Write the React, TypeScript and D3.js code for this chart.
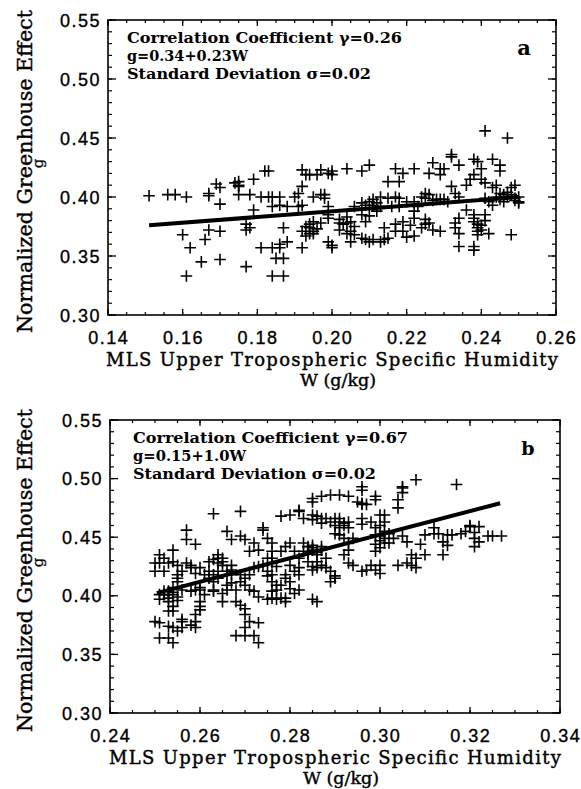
import React from "react";
import * as d3 from "d3";

// ---------- DATA ----------
const yTicks = [0.3, 0.35, 0.4, 0.45, 0.5, 0.55];
const xTicksA = [0.14, 0.16, 0.18, 0.2, 0.22, 0.24, 0.26];
const xTicksB = [0.24, 0.26, 0.28, 0.3, 0.32, 0.34];

const annotA = ["Correlation Coefficient γ=0.26", "g=0.34+0.23W", "Standard Deviation σ=0.02"];
const annotB = ["Correlation Coefficient γ=0.67", "g=0.15+1.0W", "Standard Deviation σ=0.02"];

const fitA: [number, number][] = [[0.151, 0.376], [0.250, 0.400]];
const fitB: [number, number][] = [[0.2504, 0.4023], [0.3267, 0.479]];

const pointsA: [number, number][] = [
  [0.151, 0.401], [0.156, 0.402], [0.158, 0.402], [0.161, 0.400], [0.167, 0.401], [0.167, 0.403],
  [0.169, 0.411], [0.170, 0.408], [0.170, 0.394], [0.174, 0.412], [0.175, 0.413], [0.175, 0.410],
  [0.175, 0.409], [0.175, 0.402], [0.178, 0.402], [0.179, 0.415], [0.182, 0.422], [0.183, 0.422],
  [0.181, 0.400], [0.183, 0.400], [0.184, 0.400], [0.186, 0.400], [0.179, 0.389], [0.184, 0.392],
  [0.186, 0.393], [0.188, 0.392], [0.190, 0.400], [0.191, 0.403], [0.192, 0.409], [0.192, 0.423],
  [0.193, 0.419], [0.194, 0.419], [0.196, 0.419], [0.197, 0.423], [0.199, 0.420], [0.200, 0.422],
  [0.200, 0.419], [0.204, 0.424], [0.208, 0.422], [0.210, 0.427], [0.195, 0.400], [0.197, 0.402],
  [0.198, 0.402], [0.198, 0.399], [0.191, 0.392], [0.192, 0.393], [0.199, 0.392], [0.199, 0.385],
  [0.160, 0.368], [0.162, 0.357], [0.165, 0.345], [0.170, 0.347], [0.161, 0.333], [0.167, 0.372],
  [0.166, 0.364], [0.170, 0.371], [0.177, 0.377], [0.177, 0.372], [0.178, 0.374], [0.177, 0.341],
  [0.187, 0.374], [0.181, 0.357], [0.184, 0.357], [0.186, 0.357], [0.186, 0.360], [0.188, 0.362],
  [0.185, 0.348], [0.187, 0.348], [0.184, 0.333], [0.187, 0.333], [0.192, 0.371], [0.193, 0.375],
  [0.194, 0.374], [0.195, 0.371], [0.195, 0.369], [0.193, 0.367], [0.195, 0.379], [0.194, 0.377],
  [0.192, 0.357], [0.197, 0.378], [0.199, 0.382], [0.200, 0.359], [0.200, 0.357], [0.199, 0.362],
  [0.202, 0.381], [0.203, 0.377], [0.204, 0.378], [0.205, 0.379], [0.206, 0.375], [0.202, 0.372],
  [0.204, 0.369], [0.206, 0.368], [0.205, 0.362], [0.208, 0.365], [0.209, 0.364], [0.211, 0.364],
  [0.213, 0.362], [0.214, 0.364], [0.215, 0.365], [0.206, 0.392], [0.208, 0.395], [0.209, 0.393],
  [0.210, 0.396], [0.211, 0.393], [0.212, 0.388], [0.213, 0.400], [0.215, 0.399], [0.216, 0.392],
  [0.208, 0.385], [0.210, 0.384], [0.209, 0.379], [0.214, 0.374], [0.217, 0.377], [0.217, 0.371],
  [0.219, 0.371], [0.220, 0.366], [0.222, 0.367], [0.224, 0.374], [0.225, 0.377], [0.227, 0.372],
  [0.229, 0.371], [0.215, 0.413], [0.217, 0.424], [0.218, 0.413], [0.219, 0.420], [0.222, 0.424],
  [0.217, 0.400], [0.218, 0.399], [0.220, 0.396], [0.222, 0.396], [0.223, 0.392], [0.224, 0.400],
  [0.225, 0.403], [0.226, 0.402], [0.228, 0.398], [0.222, 0.388], [0.222, 0.382], [0.225, 0.381],
  [0.226, 0.378], [0.227, 0.429], [0.226, 0.420], [0.229, 0.424], [0.230, 0.424], [0.229, 0.419],
  [0.232, 0.436], [0.232, 0.434], [0.234, 0.427], [0.238, 0.432], [0.239, 0.430], [0.240, 0.424],
  [0.243, 0.432], [0.245, 0.427], [0.245, 0.422], [0.247, 0.450], [0.232, 0.409], [0.233, 0.403],
  [0.234, 0.400], [0.236, 0.410], [0.237, 0.415], [0.238, 0.419], [0.240, 0.415], [0.241, 0.412],
  [0.243, 0.408], [0.244, 0.410], [0.245, 0.403], [0.249, 0.410], [0.248, 0.408], [0.233, 0.378],
  [0.233, 0.374], [0.234, 0.369], [0.234, 0.382], [0.236, 0.389], [0.238, 0.385], [0.238, 0.379],
  [0.239, 0.374], [0.239, 0.371], [0.240, 0.376], [0.241, 0.385], [0.242, 0.369], [0.234, 0.358],
  [0.238, 0.358], [0.238, 0.355], [0.248, 0.368], [0.241, 0.399], [0.242, 0.396], [0.243, 0.393],
  [0.244, 0.400], [0.246, 0.402], [0.247, 0.400], [0.249, 0.399], [0.250, 0.400], [0.250, 0.396],
  [0.250, 0.395], [0.230, 0.398], [0.231, 0.396], [0.241, 0.456],
  [0.194, 0.369], [0.196, 0.373], [0.202, 0.378], [0.204, 0.383], [0.205, 0.371], [0.210, 0.362],
  [0.238, 0.382], [0.239, 0.377], [0.240, 0.372], [0.241, 0.380], [0.239, 0.368], [0.245, 0.398],
  [0.246, 0.396], [0.247, 0.404], [0.248, 0.402], [0.249, 0.397], [0.225, 0.399], [0.227, 0.397],
  [0.229, 0.398], [0.219, 0.379], [0.221, 0.376], [0.218, 0.392], [0.211, 0.398], [0.212, 0.395],
  [0.213, 0.392],
];

const pointsB: [number, number][] = [
  [0.250, 0.428], [0.250, 0.421], [0.251, 0.428], [0.251, 0.435], [0.252, 0.432], [0.252, 0.421],
  [0.253, 0.428], [0.254, 0.439], [0.254, 0.429], [0.255, 0.426], [0.255, 0.418], [0.255, 0.415],
  [0.256, 0.421], [0.255, 0.412], [0.254, 0.407], [0.253, 0.404], [0.254, 0.401], [0.253, 0.398],
  [0.251, 0.401], [0.251, 0.397], [0.252, 0.401], [0.253, 0.395], [0.254, 0.391], [0.254, 0.387],
  [0.253, 0.387], [0.250, 0.378], [0.251, 0.377], [0.253, 0.374], [0.254, 0.373], [0.256, 0.373],
  [0.256, 0.380], [0.255, 0.370], [0.251, 0.364], [0.253, 0.364], [0.254, 0.360],
  [0.257, 0.456], [0.257, 0.448], [0.259, 0.444], [0.257, 0.428], [0.258, 0.424], [0.258, 0.426],
  [0.256, 0.405], [0.258, 0.404], [0.259, 0.405], [0.260, 0.407], [0.260, 0.405], [0.261, 0.401],
  [0.260, 0.395], [0.260, 0.391], [0.260, 0.388], [0.259, 0.384], [0.259, 0.378], [0.258, 0.375],
  [0.259, 0.373], [0.256, 0.378],
  [0.259, 0.419], [0.260, 0.424], [0.261, 0.418], [0.262, 0.421], [0.262, 0.429], [0.263, 0.431],
  [0.264, 0.432], [0.264, 0.435], [0.265, 0.429], [0.265, 0.426], [0.264, 0.421], [0.263, 0.418],
  [0.262, 0.415], [0.263, 0.412], [0.264, 0.415], [0.266, 0.418], [0.266, 0.421], [0.267, 0.426],
  [0.267, 0.422], [0.267, 0.418], [0.263, 0.470], [0.269, 0.472],
  [0.266, 0.455], [0.267, 0.448], [0.269, 0.451], [0.270, 0.448], [0.272, 0.445], [0.271, 0.438],
  [0.273, 0.439], [0.274, 0.458], [0.274, 0.456], [0.275, 0.449], [0.276, 0.445], [0.276, 0.438],
  [0.275, 0.432],
  [0.263, 0.405], [0.263, 0.404], [0.265, 0.402], [0.265, 0.395], [0.266, 0.409], [0.267, 0.411],
  [0.268, 0.405], [0.268, 0.395], [0.269, 0.392], [0.270, 0.389], [0.270, 0.384], [0.271, 0.378],
  [0.270, 0.373], [0.273, 0.377], [0.272, 0.366], [0.273, 0.360], [0.268, 0.366], [0.270, 0.366],
  [0.269, 0.418], [0.269, 0.412], [0.270, 0.415], [0.271, 0.418], [0.272, 0.424], [0.273, 0.425],
  [0.274, 0.426], [0.275, 0.421], [0.275, 0.417], [0.276, 0.412], [0.276, 0.418], [0.277, 0.409],
  [0.276, 0.404], [0.277, 0.405], [0.278, 0.409], [0.279, 0.415], [0.279, 0.418], [0.280, 0.412],
  [0.280, 0.406], [0.281, 0.402], [0.282, 0.405], [0.279, 0.398], [0.278, 0.398], [0.277, 0.397],
  [0.276, 0.398], [0.275, 0.397], [0.273, 0.399], [0.272, 0.404], [0.271, 0.405], [0.270, 0.409],
  [0.279, 0.395],
  [0.278, 0.438], [0.279, 0.442], [0.280, 0.445], [0.281, 0.438], [0.282, 0.432], [0.283, 0.438],
  [0.283, 0.445], [0.284, 0.442], [0.285, 0.443], [0.285, 0.439], [0.286, 0.435], [0.287, 0.439],
  [0.287, 0.442], [0.286, 0.429], [0.286, 0.424], [0.287, 0.426], [0.288, 0.432],
  [0.285, 0.397], [0.286, 0.395],
  [0.280, 0.426], [0.281, 0.421], [0.282, 0.418], [0.282, 0.424], [0.284, 0.429], [0.285, 0.425],
  [0.285, 0.422],
  [0.278, 0.468], [0.280, 0.469], [0.282, 0.472], [0.282, 0.473], [0.283, 0.466], [0.285, 0.465],
  [0.285, 0.469], [0.286, 0.468], [0.287, 0.466], [0.287, 0.462], [0.288, 0.466], [0.289, 0.463],
  [0.290, 0.460], [0.290, 0.466], [0.291, 0.466], [0.292, 0.462], [0.293, 0.463], [0.293, 0.458],
  [0.291, 0.458], [0.290, 0.453], [0.291, 0.452], [0.292, 0.449], [0.293, 0.445], [0.294, 0.449],
  [0.296, 0.461], [0.296, 0.466], [0.298, 0.463], [0.299, 0.458], [0.300, 0.460], [0.301, 0.463],
  [0.301, 0.469], [0.300, 0.469], [0.302, 0.453], [0.300, 0.451], [0.301, 0.449],
  [0.285, 0.480], [0.285, 0.483], [0.287, 0.485], [0.289, 0.486], [0.291, 0.486], [0.293, 0.485],
  [0.295, 0.480], [0.296, 0.478], [0.296, 0.479], [0.297, 0.478], [0.299, 0.482], [0.299, 0.485],
  [0.296, 0.493], [0.296, 0.490], [0.304, 0.482], [0.305, 0.488], [0.305, 0.492], [0.305, 0.493],
  [0.304, 0.475], [0.308, 0.499], [0.317, 0.495],
  [0.288, 0.424], [0.289, 0.421], [0.290, 0.417], [0.289, 0.412], [0.290, 0.415],
  [0.292, 0.435], [0.293, 0.439], [0.293, 0.428], [0.294, 0.426], [0.296, 0.421], [0.297, 0.422],
  [0.298, 0.426], [0.299, 0.422], [0.300, 0.419], [0.300, 0.426],
  [0.299, 0.444], [0.299, 0.438], [0.300, 0.441], [0.301, 0.445], [0.302, 0.445], [0.303, 0.449],
  [0.304, 0.426], [0.306, 0.428], [0.307, 0.426], [0.308, 0.424], [0.308, 0.432], [0.307, 0.435],
  [0.309, 0.444], [0.310, 0.435], [0.310, 0.452], [0.312, 0.458], [0.313, 0.453], [0.314, 0.446],
  [0.315, 0.452], [0.314, 0.435], [0.312, 0.453], [0.315, 0.443],
  [0.316, 0.452], [0.318, 0.453], [0.319, 0.455], [0.320, 0.459], [0.320, 0.460], [0.321, 0.449],
  [0.322, 0.446], [0.321, 0.442], [0.324, 0.451], [0.325, 0.451], [0.327, 0.451], [0.322, 0.459],
  [0.321, 0.454], [0.305, 0.451], [0.306, 0.446],
  [0.253, 0.401], [0.254, 0.403], [0.255, 0.399], [0.252, 0.404], [0.255, 0.396], [0.264, 0.428],
  [0.265, 0.432], [0.266, 0.405], [0.276, 0.428], [0.277, 0.425], [0.276, 0.432], [0.285, 0.441],
  [0.286, 0.437], [0.284, 0.436], [0.291, 0.463], [0.292, 0.460], [0.300, 0.447], [0.301, 0.455],
  [0.299, 0.452],
];

// ---------- DRAWING ----------
const SERIF = "'DejaVu Serif', serif";
const SANS = "'Liberation Sans', Arial, sans-serif";
const fmt = d3.format(".2f");

type Box = { left: number; right: number; top: number; bottom: number };

function Panel(props: {
  box: Box;
  xTicks: number[];
  points: [number, number][];
  fit: [number, number][];
  annot: string[];
  annotLen: number[];
  annotX: number;
  letter: string;
  letterSize: number;
}) {
  const { box, xTicks, points, fit, annot, annotLen, annotX, letter, letterSize } = props;
  const xDom = [xTicks[0], xTicks[xTicks.length - 1]];
  const x = d3.scaleLinear().domain(xDom).range([box.left, box.right]);
  const y = d3.scaleLinear().domain([0.3, 0.55]).range([box.bottom, box.top]);
  const xMinor = d3.range(Math.round((xDom[1] - xDom[0]) / 0.005) + 1).map((i) => xDom[0] + i * 0.005);
  const yMinor = d3.range(26).map((i) => 0.3 + i * 0.01);
  const line = d3.line<[number, number]>().x((d) => x(d[0])).y((d) => y(d[1]));
  const cx = (box.left + box.right) / 2;
  const cy = (box.top + box.bottom) / 2;
  const s = 5.8;

  return (
    <g>
      {xMinor.map((v, i) => (
        <g key={"xm" + i} stroke="#000" strokeWidth={1.2}>
          <line x1={x(v)} x2={x(v)} y1={box.bottom} y2={box.bottom - 3} />
          <line x1={x(v)} x2={x(v)} y1={box.top} y2={box.top + 3} />
        </g>
      ))}
      {yMinor.map((v, i) => (
        <g key={"ym" + i} stroke="#000" strokeWidth={1.2}>
          <line x1={box.left} x2={box.left + 4} y1={y(v)} y2={y(v)} />
          <line x1={box.right} x2={box.right - 4} y1={y(v)} y2={y(v)} />
        </g>
      ))}
      {xTicks.map((v, i) => (
        <g key={"xM" + i} stroke="#000" strokeWidth={1.3}>
          <line x1={x(v)} x2={x(v)} y1={box.bottom} y2={box.bottom - 6} />
          <line x1={x(v)} x2={x(v)} y1={box.top} y2={box.top + 6} />
        </g>
      ))}
      {yTicks.map((v, i) => (
        <g key={"yM" + i} stroke="#000" strokeWidth={1.3}>
          <line x1={box.left} x2={box.left + 8} y1={y(v)} y2={y(v)} />
          <line x1={box.right} x2={box.right - 8} y1={y(v)} y2={y(v)} />
        </g>
      ))}
      <rect x={box.left} y={box.top} width={box.right - box.left} height={box.bottom - box.top}
        fill="none" stroke="#000" strokeWidth={1.6} />
      {yTicks.map((v, i) => (
        <text key={"yl" + i} x={box.left - 7} y={y(v) + 6.5} textAnchor="end" fontFamily={SANS}
          fontSize={18} letterSpacing={1.5} fill="#000" stroke="#000" strokeWidth={0.35}>{fmt(v)}</text>
      ))}
      {xTicks.map((v, i) => (
        <text key={"xl" + i} x={x(v) + 0.75} y={box.bottom + 29} textAnchor="middle" fontFamily={SANS}
          fontSize={18} letterSpacing={1.5} fill="#000" stroke="#000" strokeWidth={0.35}>{fmt(v)}</text>
      ))}
      <text x={cx} y={box.bottom + 51} textAnchor="middle" fontFamily={SERIF} fontSize={18}
        textLength={452} lengthAdjust="spacing" fill="#000" stroke="#000" strokeWidth={0.4}>
        MLS Upper Tropospheric Specific Humidity
      </text>
      <text x={cx + 6} y={box.bottom + 71} textAnchor="middle" fontFamily={SERIF} fontSize={17.5}
        fill="#000" stroke="#000" strokeWidth={0.4}>W (g/kg)</text>
      <text transform={`translate(32, ${cy + 4}) rotate(-90)`} textAnchor="middle" fontFamily={SERIF}
        fontSize={21} textLength={323} lengthAdjust="spacingAndGlyphs" fill="#000" stroke="#000" strokeWidth={0.4}>
        Normalized Greenhouse Effect
      </text>
      <text transform={`translate(43, ${cy - 4}) rotate(-90)`} textAnchor="middle" fontFamily={SERIF}
        fontSize={15} fill="#000" stroke="#000" strokeWidth={0.3}>g</text>
      {annot.map((t, i) => (
        <text key={"an" + i} x={annotX} y={box.top + 23 + i * 18} fontFamily={SERIF} fontWeight="bold"
          fontSize={14.5} textLength={annotLen[i]} lengthAdjust="spacingAndGlyphs" fill="#000">{t}</text>
      ))}
      <text x={box.right - 32} y={box.top + 35} textAnchor="middle" fontFamily={SERIF} fontWeight="bold"
        fontSize={letterSize} fill="#000">{letter}</text>
      <g stroke="#000" strokeWidth={1.6}>
        {points.map((p, i) => {
          const px = x(p[0]);
          const py = y(p[1]);
          return <path key={"p" + i} d={`M${px - s},${py}H${px + s}M${px},${py - s}V${py + s}`} />;
        })}
      </g>
      <path d={line(fit) || ""} stroke="#000" strokeWidth={4} fill="none" />
    </g>
  );
}

export default function App() {
  return (
    <svg width={581} height={789} viewBox="0 0 581 789"
      style={{ position: "absolute", left: 0, top: 0, background: "#fff" }}>
      <rect x={0} y={0} width={581} height={789} fill="#fff" />
      <Panel box={{ left: 108, right: 556, top: 20, bottom: 315 }} xTicks={xTicksA} points={pointsA}
        fit={fitA} annot={annotA} annotLen={[275, 121, 244]} annotX={127} letter="a" letterSize={21} />
      <Panel box={{ left: 110, right: 560, top: 420, bottom: 713 }} xTicks={xTicksB} points={pointsB}
        fit={fitB} annot={annotB} annotLen={[275, 113, 243]} annotX={133} letter="b" letterSize={19} />
    </svg>
  );
}
